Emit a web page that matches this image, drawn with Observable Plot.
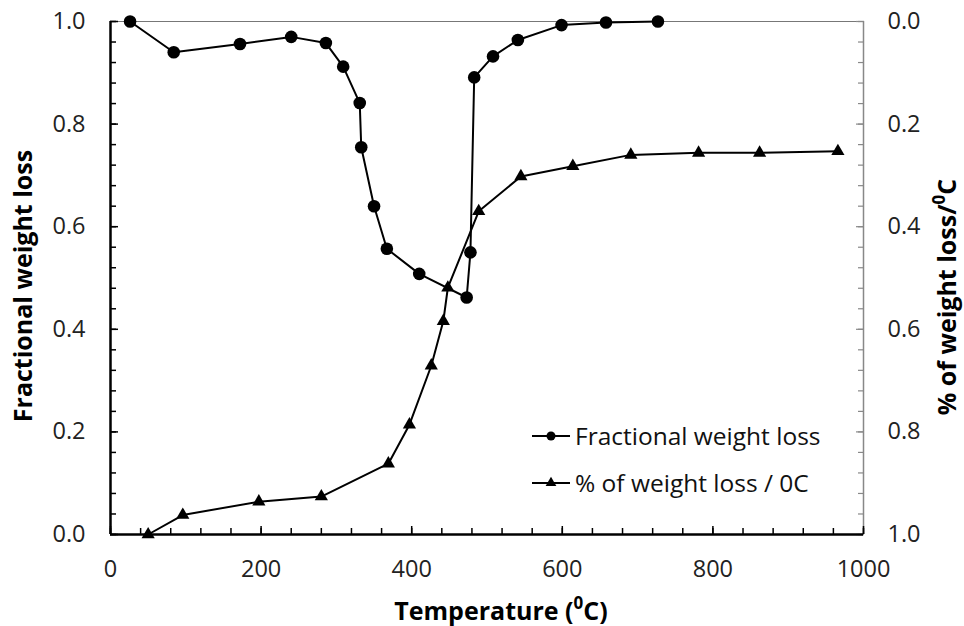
<!DOCTYPE html>
<html>
<head>
<meta charset="utf-8">
<script src="https://cdn.jsdelivr.net/npm/d3@7"></script>
<script src="https://cdn.jsdelivr.net/npm/@observablehq/plot@0.6"></script>
<style>
  html, body { margin: 0; padding: 0; background: #fff; }
  #chart { position: relative; width: 964px; height: 626px; }
</style>
</head>
<body>
<div id="chart"></div>
<script>
// Fractional weight loss (left axis)
const tempFrac = [26, 84, 172, 240, 286, 309, 331, 333, 350, 367, 410, 473, 478, 483, 508, 541, 599, 658, 727];
const fracLoss = [1.0, 0.94, 0.956, 0.970, 0.958, 0.912, 0.841, 0.755, 0.640, 0.557, 0.508, 0.462, 0.550, 0.891, 0.932, 0.964, 0.993, 0.998, 1.0];
// % of weight loss / °C (right axis, inverted)
const tempRate = [50, 96, 197, 280, 369, 397, 426, 442, 448, 489, 545, 614, 691, 781, 862, 966];
const rateLoss = [1.0, 0.962, 0.936, 0.926, 0.862, 0.786, 0.671, 0.584, 0.519, 0.370, 0.302, 0.282, 0.260, 0.256, 0.256, 0.253];

const xMajor = [0, 200, 400, 600, 800, 1000];
const xMinor = d3.range(0, 1001, 40);
const yMajor = [0, 0.2, 0.4, 0.6, 0.8, 1.0];
const yMinor = d3.range(0, 26).map(i => i * 0.04);

const seriesNames = ["Fractional weight loss", "% of weight loss / 0C"];
const xTitle = "Temperature (";
const yLeftTitle = "Fractional weight loss";
const yRightTitle = "% of weight loss/";

const fracIdx = d3.range(tempFrac.length);
const rateIdx = d3.range(tempRate.length);

const font = "'Open Sans', sans-serif";

const plot = Plot.plot({
  width: 964,
  height: 626,
  marginLeft: 110,
  marginRight: 101,
  marginTop: 21,
  marginBottom: 92,
  x: {domain: [0, 1000]},
  y: {domain: [0, 1]},
  style: {fontFamily: font, fontSize: "23.5px", color: "#222", background: "#fff"},
  marks: [
    Plot.frame({stroke: "#777", strokeWidth: 1}),
    Plot.ruleX([1000], {stroke: "#888", strokeWidth: 1.5}),
    // left axis
    Plot.axisY(yMajor, {anchor: "left", tickSize: -8, tickPadding: 33, strokeWidth: 1.5, stroke: "#000", tickFormat: d => d.toFixed(1), label: null, fill: "#222"}),
    Plot.axisY(yMinor, {anchor: "left", tickSize: -6, tickPadding: 0, strokeWidth: 1.5, stroke: "#000", tickFormat: () => "", label: null}),
    // right axis (inverted values)
    Plot.axisY(yMajor, {anchor: "right", tickSize: -8, tickPadding: 32, strokeWidth: 1.2, stroke: "#888", tickFormat: d => (1 - d).toFixed(1), label: null, fill: "#222"}),
    Plot.axisY(yMinor, {anchor: "right", tickSize: -6, tickPadding: 0, strokeWidth: 1.2, stroke: "#888", tickFormat: () => "", label: null}),
    // bottom axis
    Plot.axisX(xMajor, {anchor: "bottom", tickSize: -8, tickPadding: 34, strokeWidth: 1.5, stroke: "#000", label: null, fill: "#222", tickFormat: d => String(d)}),
    Plot.axisX(xMinor, {anchor: "bottom", tickSize: -6, tickPadding: 0, strokeWidth: 1.5, stroke: "#000", tickFormat: () => "", label: null}),
    Plot.ruleY([0], {stroke: "#000", strokeWidth: 2.5}),
    Plot.ruleX([0], {stroke: "#000", strokeWidth: 2.5}),
    // series
    Plot.line(fracIdx, {x: i => tempFrac[i], y: i => fracLoss[i], stroke: "#000", strokeWidth: 2}),
    Plot.dot(fracIdx, {x: i => tempFrac[i], y: i => fracLoss[i], r: 6.3, fill: "#000", stroke: null}),
    Plot.line(rateIdx, {x: i => tempRate[i], y: i => 1 - rateLoss[i], stroke: "#000", strokeWidth: 2}),
    Plot.dot(rateIdx, {x: i => tempRate[i], y: i => 1 - rateLoss[i], r: 4.9, symbol: "triangle", fill: "#000", stroke: null})
  ]
});

document.getElementById("chart").appendChild(plot);

const svg = d3.select(plot);

// Axis titles with superscript zero
function titleWithSup(g, main, tail) {
  g.append("tspan").text(main);
  g.append("tspan").attr("baseline-shift", "super").attr("font-size", "17px").text("0");
  g.append("tspan").text(tail);
}

const xt = svg.append("text")
  .attr("x", 501).attr("y", 620)
  .attr("text-anchor", "middle")
  .attr("font-family", font).attr("font-weight", "bold").attr("font-size", "25px").attr("fill", "#000");
titleWithSup(xt, xTitle, "C)");

svg.append("text")
  .attr("transform", "translate(32,286) rotate(-90)")
  .attr("text-anchor", "middle")
  .attr("font-family", font).attr("font-weight", "bold").attr("font-size", "25px").attr("fill", "#000")
  .text(yLeftTitle);

const yr = svg.append("text")
  .attr("transform", "translate(956,297) rotate(-90)")
  .attr("text-anchor", "middle")
  .attr("font-family", font).attr("font-weight", "bold").attr("font-size", "25px").attr("fill", "#000");
titleWithSup(yr, yRightTitle, "C");

// Legend
const legend = svg.append("g").attr("font-family", font).attr("font-size", "24.5px").attr("fill", "#111").attr("text-anchor", "start");
[0, 1].forEach(k => {
  const cy = 436 + k * 47;
  const row = legend.append("g");
  row.append("line").attr("x1", 532).attr("x2", 570).attr("y1", cy).attr("y2", cy).attr("stroke", "#000").attr("stroke-width", 2);
  if (k === 0) {
    row.append("circle").attr("cx", 551).attr("cy", cy).attr("r", 4.5).attr("fill", "#000");
  } else {
    row.append("path").attr("d", d3.symbol(d3.symbolTriangle, 50)()).attr("transform", `translate(551,${cy})`).attr("fill", "#000");
  }
  row.append("text").attr("x", 575).attr("y", cy).attr("dy", "0.35em").attr("text-anchor", "start").text(seriesNames[k]);
});
</script>
</body>
</html>
